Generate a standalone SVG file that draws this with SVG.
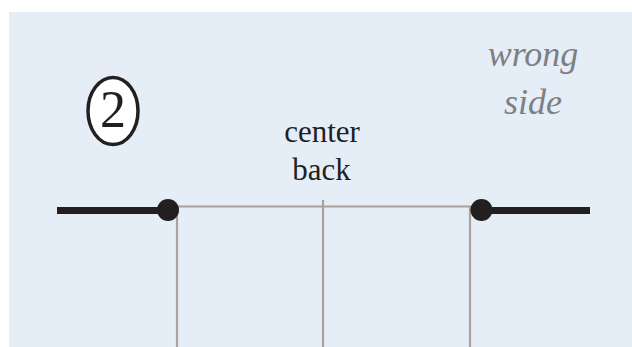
<svg xmlns="http://www.w3.org/2000/svg" width="632" height="347" viewBox="0 0 632 347">
<style>
.thick{stroke:#231f20;stroke-width:7;fill:none}
.seam{stroke:#aaa09c;stroke-width:2.2;fill:none}
.dot{fill:#231f20}
.lbl{font-family:'Liberation Serif','Times New Roman',serif;fill:#231f20;text-anchor:middle}
.side{font-family:'Liberation Serif','Times New Roman',serif;font-style:italic;fill:#7d7f82;text-anchor:middle;font-size:36px}
</style>
<rect width="632" height="347" fill="#ffffff"/>
<rect x="9" y="12" width="623" height="335" fill="#e5eef7"/>
<g id="connectors">
<line class="seam" x1="168" y1="206.5" x2="481" y2="206.5"/>
<line class="seam" x1="177" y1="206.5" x2="177" y2="347"/>
<line class="seam" x1="323" y1="200" x2="323" y2="347"/>
<line class="seam" x1="470" y1="206.5" x2="470" y2="347"/>
<line class="thick" x1="57" y1="210.5" x2="168" y2="210.5"/>
<line class="thick" x1="481" y1="210.5" x2="590" y2="210.5"/>
</g>
<g id="left-point"><circle class="dot" cx="168" cy="210" r="11"/></g>
<g id="right-point"><circle class="dot" cx="481.5" cy="210" r="11"/></g>
<g id="step">
<ellipse cx="113" cy="111" rx="25" ry="33.5" fill="#ffffff" stroke="#231f20" stroke-width="3.5"/>
<text class="lbl" x="113" y="126.5" font-size="52">2</text>
</g>
<g id="center-back">
<text class="lbl" x="322" y="142" font-size="31">center</text>
<text class="lbl" x="321.5" y="180" font-size="31">back</text>
</g>
<g id="wrong-side">
<text class="side" x="533" y="66">wrong</text>
<text class="side" x="533" y="114">side</text>
</g>
</svg>
